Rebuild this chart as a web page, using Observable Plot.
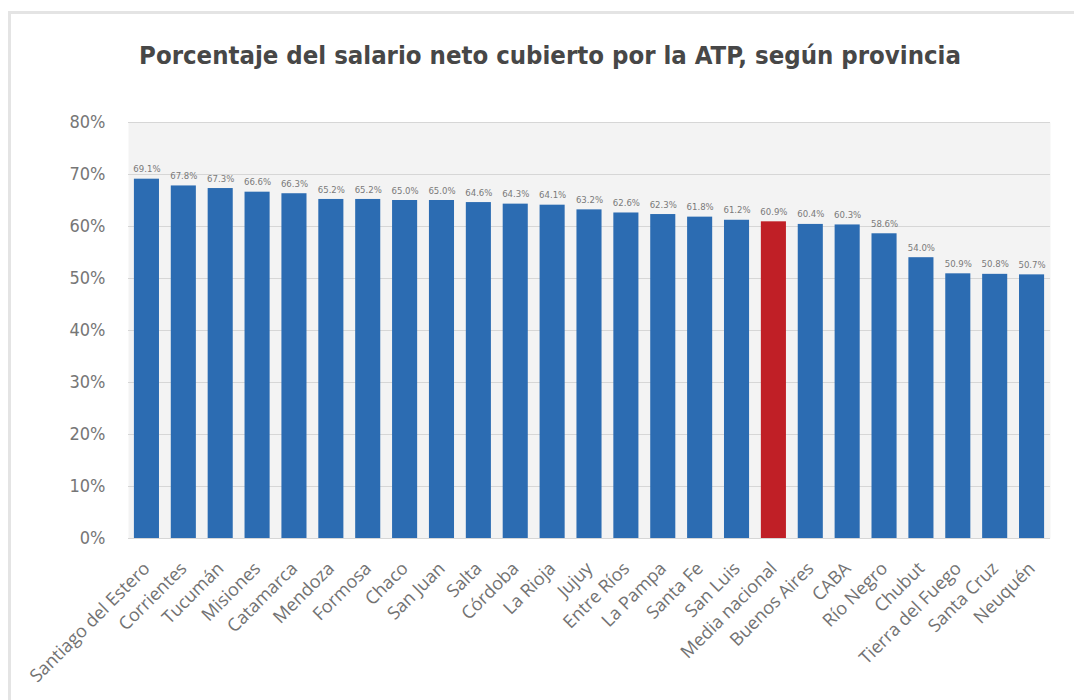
<!DOCTYPE html>
<html>
<head>
<meta charset="utf-8">
<script src="https://cdn.jsdelivr.net/npm/d3@7"></script>
<script src="https://cdn.jsdelivr.net/npm/@observablehq/plot@0.6"></script>
<style>
  html, body { margin: 0; padding: 0; background: #fff; width: 1074px; height: 700px; overflow: hidden; }
  #frame { position: absolute; left: 8px; top: 11px; right: 0; bottom: 0; border-top: 3px solid #e4e4e4; border-left: 3px solid #e4e4e4; }
  #title { position: absolute; left: 0; top: 40px; width: 1100px; text-align: center; font-family: "DejaVu Sans Condensed", sans-serif; font-weight: bold; font-size: 25.5px; color: #474747; }
  #chart { position: absolute; left: 0; top: 90px; }
</style>
</head>
<body>
<div id="frame"></div>
<div id="title">Porcentaje del salario neto cubierto por la ATP, según provincia</div>
<div id="chart"></div>
<script>
const provinces = ["Santiago del Estero","Corrientes","Tucumán","Misiones","Catamarca","Mendoza","Formosa","Chaco","San Juan","Salta","Córdoba","La Rioja","Jujuy","Entre Ríos","La Pampa","Santa Fe","San Luis","Media nacional","Buenos Aires","CABA","Río Negro","Chubut","Tierra del Fuego","Santa Cruz","Neuquén"];
const values = [69.1,67.8,67.3,66.6,66.3,65.2,65.2,65.0,65.0,64.6,64.3,64.1,63.2,62.6,62.3,61.8,61.2,60.9,60.4,60.3,58.6,54.0,50.9,50.8,50.7];
const yTicks = [0,10,20,30,40,50,60,70,80];
const highlight = "Media nacional";

const data = provinces.map((p, i) => ({province: p, value: values[i]}));

const chart = Plot.plot({
  width: 1074,
  height: 610,
  marginLeft: 128,
  marginRight: 24,
  marginTop: 32,
  marginBottom: 162,
  x: {domain: provinces, paddingInner: 0.32, paddingOuter: 0.16, round: false, label: null},
  y: {domain: [0, 80], label: null},
  marks: [
    Plot.frame({fill: "#f3f3f3", stroke: null}),
    Plot.gridY(yTicks, {stroke: "#d6d6d6", strokeOpacity: 1}),
    Plot.barY(data, {x: "province", y: "value", fill: d => d.province === highlight ? "#c01f26" : "#2c6cb2"}),
    Plot.text(data, {x: "province", y: "value", text: d => d.value.toFixed(1) + "%", dy: -10, fontSize: 9.5, fill: "#7a7a7a", fontFamily: "'DejaVu Sans Condensed', sans-serif"}),
    Plot.axisY({ticks: yTicks, tickFormat: d => d + "%", tickSize: 0, tickPadding: 23, fontSize: 18, fill: "#767676", fontFamily: "'DejaVu Sans Condensed', sans-serif", label: null}),
    Plot.axisX({tickSize: 0, tickRotate: -45, tickPadding: 27, fontSize: 18, fill: "#727272", fontFamily: "'Open Sans', sans-serif", label: null})
  ]
});
document.getElementById("chart").appendChild(chart);
</script>
</body>
</html>
